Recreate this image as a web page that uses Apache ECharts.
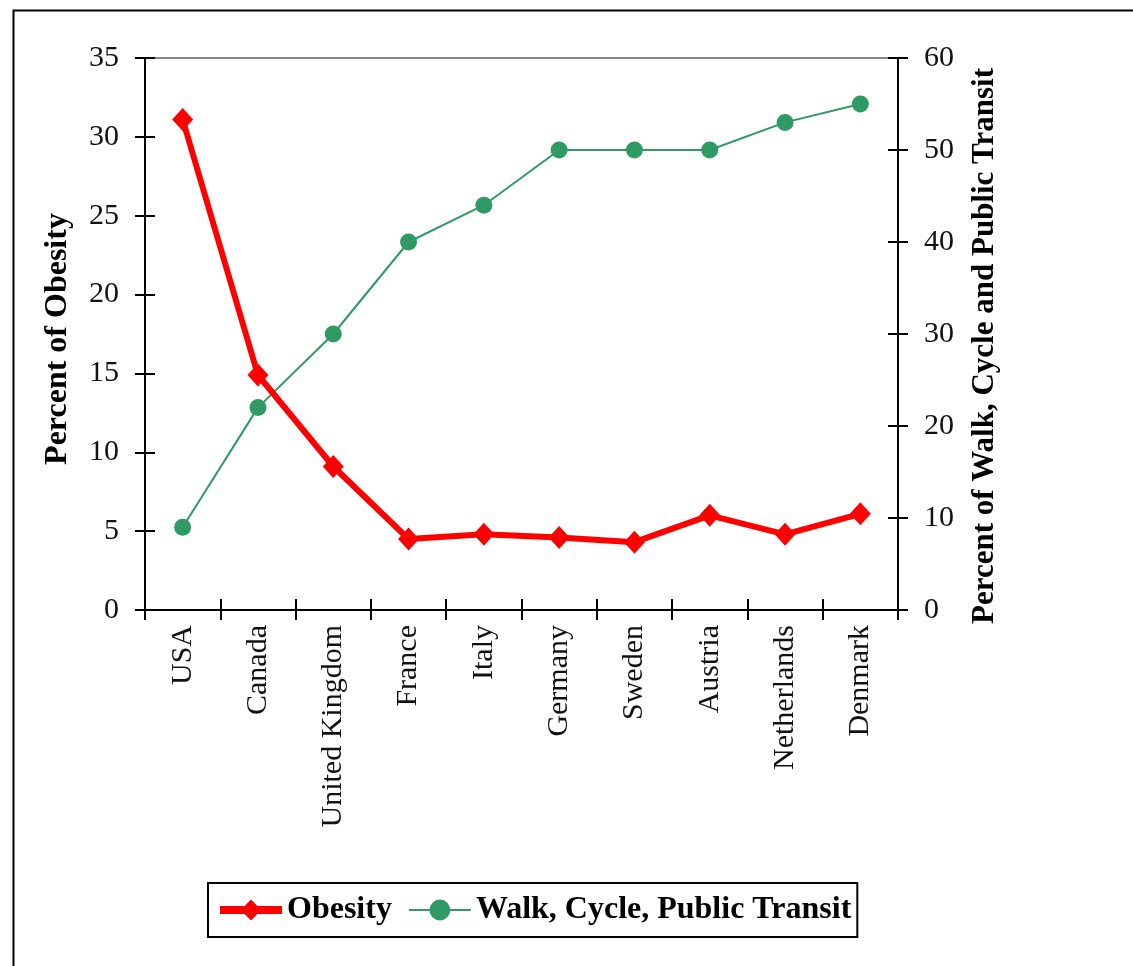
<!DOCTYPE html>
<html>
<head>
<meta charset="utf-8">
<script src="https://cdn.jsdelivr.net/npm/echarts@6/dist/echarts.min.js"></script>
<style>
html,body{margin:0;padding:0;background:#fff;}
#chart{width:1133px;height:966px;}
</style>
</head>
<body>
<div id="chart"></div>
<script>
var categories = ['USA','Canada','United Kingdom','France','Italy','Germany','Sweden','Austria','Netherlands','Denmark'];
var obesity = [31.1, 14.9, 9.1, 4.5, 4.8, 4.6, 4.3, 6.0, 4.8, 6.1];
var walkCycleTransit = [9, 22, 30, 40, 44, 50, 50, 50, 53, 55];
var leftTicks = {min: 0, max: 35, interval: 5};
var rightTicks = {min: 0, max: 60, interval: 10};

var FONT = '"Liberation Serif", "Times New Roman", serif';
var chart = echarts.init(document.getElementById('chart'));

function valAxis(grid, pos, t, inside, main, name, namePad) {
  var ax = {
    type: 'value', gridIndex: grid, position: pos, min: t.min, max: t.max, interval: t.interval,
    splitLine: {show: false},
    axisLine: {show: main, lineStyle: {color: '#000', width: 2}},
    axisTick: {show: true, inside: inside, length: 10, lineStyle: {color: '#000', width: 2}},
    axisLabel: {show: main, fontFamily: FONT, fontSize: 30, color: '#111', margin: 26}
  };
  if (main) {
    ax.name = name;
    ax.nameLocation = 'middle';
    ax.nameRotate = 90;
    ax.nameGap = 71;
    ax.nameTextStyle = {fontFamily: FONT, fontSize: pos === 'left' ? 32 : 31, fontWeight: 'bold', color: '#000', padding: namePad};
  }
  return ax;
}

var gridBox = {left: 145, right: 235, top: 58, bottom: 356, containLabel: false};

var option = {
  backgroundColor: '#fff',
  animation: false,
  grid: [Object.assign({}, gridBox), Object.assign({}, gridBox)],
  graphic: [{
    type: 'rect', left: 11, top: 8, z: -1,
    shape: {width: 1200, height: 1100},
    style: {fill: 'none', stroke: '#000', lineWidth: 2}
  }],
  xAxis: [
    {type: 'category', gridIndex: 0, data: categories, position: 'bottom', boundaryGap: true,
     axisLine: {onZero: false, lineStyle: {color: '#000', width: 2}},
     axisTick: {show: true, interval: 0, length: 10, lineStyle: {color: '#000', width: 2}},
     axisLabel: {interval: 0, rotate: 90, fontFamily: FONT, fontSize: 30, color: '#111', margin: 15},
     splitLine: {show: false}, z: 5},
    {type: 'category', gridIndex: 1, data: categories, position: 'bottom', boundaryGap: true,
     axisLine: {show: false, onZero: false},
     axisTick: {show: true, inside: true, interval: 0, length: 11, lineStyle: {color: '#000', width: 2}},
     axisLabel: {show: false}, splitLine: {show: false}},
    {type: 'category', gridIndex: 1, data: categories, position: 'top', boundaryGap: true,
     axisLine: {show: true, onZero: false, lineStyle: {color: '#888', width: 2}},
     axisTick: {show: false}, axisLabel: {show: false}, splitLine: {show: false}}
  ],
  yAxis: [
    valAxis(0, 'left', leftTicks, false, true, 'Percent of Obesity', [0, 10, 0, 0]),
    valAxis(0, 'right', rightTicks, false, true, 'Percent of Walk, Cycle and Public Transit', [0, 24, 0, 0]),
    valAxis(1, 'left', leftTicks, true, false),
    valAxis(1, 'right', rightTicks, true, false)
  ],
  legend: {
    left: 208, top: 883,
    padding: [11, 6, 11, 8],
    itemGap: 16,
    itemWidth: 62, itemHeight: 26,
    borderColor: '#000', borderWidth: 2,
    backgroundColor: '#fff',
    textStyle: {fontFamily: FONT, fontSize: 32, fontWeight: 'bold', color: '#000'},
    data: [
      {name: 'Obesity', lineStyle: {width: 8, color: '#ff0000'}},
      {name: 'Walk, Cycle, Public Transit', lineStyle: {width: 2, color: '#2f9a63'}}
    ]
  },
  series: [
    {name: 'Obesity', type: 'line', xAxisIndex: 0, yAxisIndex: 0, data: obesity,
     symbol: 'diamond', symbolSize: [21, 23],
     lineStyle: {color: '#ff0000', width: 6},
     itemStyle: {color: '#ff0000'}, z: 3},
    {name: 'Walk, Cycle, Public Transit', type: 'line', xAxisIndex: 0, yAxisIndex: 1, data: walkCycleTransit,
     symbol: 'circle', symbolSize: 17,
     lineStyle: {color: '#2f9a63', width: 2},
     itemStyle: {color: '#2f9a63'}, z: 2}
  ]
};
chart.setOption(option);
</script>
</body>
</html>
